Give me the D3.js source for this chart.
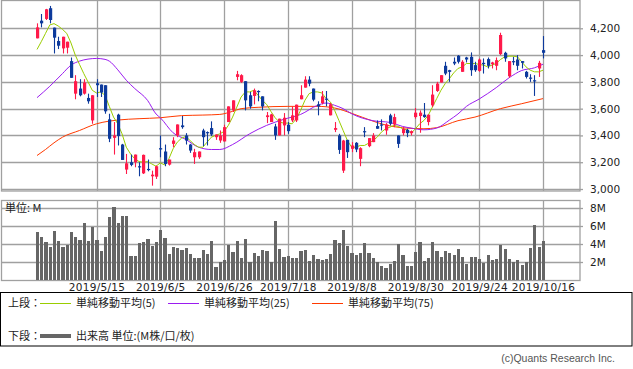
<!DOCTYPE html>
<html>
<head>
<meta charset="utf-8">
<script src="https://cdn.jsdelivr.net/npm/d3@7"></script>
<style>
body{margin:0;background:#fff;}
.chart{width:633px;height:369px;}
text{font-family:"DejaVu Sans",sans-serif;}
.jp{font-family:"Noto Sans CJK JP",sans-serif;}
</style>
</head>
<body>
<div class="chart"></div>
<script>
// daily prices, 120 trading days (2019/4/17 .. 2019/10/16)
const opens = [4125,4257,4270,4350,4205,4105,4050,4055,3955,3712,3750,3712,3680,3512,3790,3780,3775,3520,3382,3555,
  3332,3145,3200,3200,3170,3117,3150,3095,3092,3305,3280,3182,3337,3400,3475,3400,3332,3237,3237,3437,
  3425,3455,3387,3362,3355,3500,3587,3837,3800,3805,3700,3695,3732,3692,3537,3500,3467,3400,3475,3480,
  3512,3512,3670,3757,3817,3750,3632,3642,3675,3550,3442,3400,3137,3367,3300,3345,3225,3432,3320,3350,
  3470,3482,3437,3550,3482,3400,3417,3442,3417,3537,3545,3555,3500,3625,3732,3795,3920,3887,3950,3995,
  3875,3982,3987,3925,3882,3942,3970,3932,3920,4007,4017,3842,3955,3967,3955,3875,3832,3812,3900,4037];
const highs = [4237,4307,4345,4367,4205,4137,4137,4100,3982,3850,3820,3820,3712,3700,3820,3780,3775,3562,3500,3562,
  3337,3262,3257,3257,3200,3257,3220,3137,3175,3400,3332,3220,3387,3482,3545,3417,3337,3300,3280,3450,
  3430,3505,3407,3437,3480,3617,3662,3882,3857,3805,3725,3750,3737,3692,3575,3562,3487,3525,3567,3500,
  3617,3630,3775,3842,3842,3750,3655,3732,3732,3642,3500,3412,3367,3367,3350,3350,3312,3462,3380,3417,
  3512,3520,3492,3562,3562,3400,3462,3450,3437,3605,3587,3642,3555,3775,3800,3850,3950,3890,3982,4000,
  3962,3987,4020,3950,3975,3975,3982,3950,3982,4167,4025,3955,3987,4000,3955,3882,3857,3850,3957,4142];
const lows = [4125,4207,4262,4237,4012,4045,4012,4012,3830,3670,3692,3705,3637,3487,3687,3687,3562,3350,3257,3325,
  3217,3112,3170,3162,3095,3112,3132,3025,3075,3237,3170,3175,3312,3387,3450,3332,3270,3187,3225,3320,
  3325,3395,3367,3345,3355,3500,3575,3812,3792,3587,3600,3632,3655,3587,3492,3500,3367,3400,3400,3412,
  3500,3500,3670,3757,3767,3655,3550,3632,3617,3550,3425,3262,3120,3232,3275,3275,3170,3387,3312,3350,
  3450,3437,3405,3475,3462,3307,3400,3387,3400,3525,3420,3532,3475,3612,3725,3795,3850,3800,3925,3937,
  3875,3945,3845,3875,3875,3862,3900,3900,3887,4000,3950,3832,3925,3887,3900,3825,3800,3695,3837,3975];
const closes = [4207,4237,4342,4262,4130,4070,4137,4100,3830,3805,3700,3795,3655,3700,3775,3720,3580,3375,3400,3395,
  3217,3192,3180,3257,3162,3255,3142,3107,3170,3295,3187,3220,3362,3482,3462,3362,3287,3275,3280,3387,
  3417,3407,3407,3400,3462,3617,3662,3857,3850,3662,3617,3737,3725,3617,3550,3557,3400,3525,3532,3432,
  3550,3630,3700,3817,3787,3667,3617,3692,3667,3632,3455,3292,3362,3275,3325,3295,3305,3425,3380,3400,
  3450,3475,3482,3487,3537,3337,3450,3417,3432,3570,3570,3537,3555,3705,3787,3850,3862,3875,3937,3950,
  3950,3967,3887,3887,3967,3932,3920,3945,3962,4150,3975,3955,3947,3920,3942,3837,3825,3805,3942,4017];
// volume, millions of shares
const volumes = [5.37,4.8,4.24,3.7,5.45,4.35,3.7,3.9,5.35,4.8,4.42,6.35,4.35,5.9,4.42,3.25,4.8,7.0,8.1,6.35,
  7.1,7.1,2.67,2.67,4.07,4.19,4.56,3.78,4.19,5.56,4.7,2.87,3.67,3.54,3.35,3.54,2.9,2.4,2.5,3.37,
  2.87,4.35,1.46,1.98,2.22,3.89,3.15,4.35,2.48,4.57,2.0,2.96,2.67,3.37,3.22,2.0,6.58,3.48,2.55,2.67,
  2.45,2.45,3.18,3.33,2.1,2.78,2.37,2.22,2.3,2.85,4.44,4.07,5.56,3.78,2.96,2.78,2.96,4.07,2.96,2.4,
  2.04,1.58,1.33,1.76,2.1,4.0,2.8,1.55,1.55,3.1,4.19,2.1,2.5,4.19,3.22,2.6,3.22,2.96,2.78,3.42,
  2.55,1.8,2.6,2.6,2.37,1.9,2.78,2.22,2.32,3.89,3.42,2.3,2.04,2.2,1.67,2.04,3.55,6.1,3.7,4.35];
// moving averages
const ma5 = [4042,4100,4162,4225,4235,4217,4192,4162,4090,4000,3930,3862,3800,3737,3717,3725,3700,3617,3537,3487,
  3412,3312,3262,3225,3205,3200,3205,3187,3170,3195,3180,3225,3300,3350,3380,3392,3362,3332,3312,3312,
  3350,3387,3400,3412,3430,3475,3537,3612,3687,3725,3725,3737,3700,3662,3632,3580,3532,3500,3492,3492,
  3487,3525,3587,3662,3712,3725,3725,3717,3675,3650,3587,3512,3437,3362,3312,3312,3325,3325,3342,3362,
  3387,3425,3450,3462,3475,3467,3450,3442,3417,3450,3487,3512,3550,3612,3675,3737,3787,3825,3867,3900,
  3912,3937,3937,3937,3930,3925,3912,3925,3937,3967,3987,3992,3992,3987,3950,3912,3887,3875,3875,3887];
const ma25 = [[0,3682],[3,3767],[6,3862],[8,3925],[10,3955],[12,3970],[14,3975],[16,3968],[17,3955],[19,3890],
  [21,3812],[23,3750],[26,3662],[28,3560],[29,3532],[32,3420],[35,3370],[38,3312],[41,3295],[43,3295],
  [46,3332],[50,3412],[54,3475],[58,3520],[62,3557],[66,3625],[68,3642],[70,3625],[72,3600],[74,3562],
  [79,3510],[83,3497],[86,3467],[88,3455],[91,3442],[94,3455],[97,3515],[99,3560],[101,3617],[104,3672],
  [108,3757],[111,3830],[114,3885],[117,3905],[119,3932]];
const ma75 = [[0,3250],[2,3295],[4,3345],[6,3387],[10,3437],[14,3487],[17,3507],[19,3515],[24,3525],[29,3532],
  [34,3548],[39,3552],[43,3557],[46,3580],[48,3600],[52,3610],[59,3617],[66,3617],[70,3605],[74,3565],
  [79,3507],[82,3478],[86,3457],[91,3450],[94,3458],[99,3510],[103,3537],[109,3600],[114,3637],[119,3675]];

const dateIdx = [14,29,44,59,74,89,104,119];
const dateLabels = ['2019/5/15','2019/6/5','2019/6/26','2019/7/18','2019/8/8','2019/8/30','2019/9/24','2019/10/16'];
const priceTicks = [3000,3200,3400,3600,3800,4000,4200];
const volTicks = [2,4,6,8];

const width = 633, height = 369;
const upColor = '#ff1a4a', downColor = '#0d3a9c';
const gridColor = '#a0a0a0';

let svg = d3.select('.chart').append('svg')
  .attr('width', width)
  .attr('height', height);

const x = d3.scaleLinear().domain([0, 119]).range([37, 543]);
const y = d3.scaleLinear().domain([3000, 4200]).range([189, 28.3]);
const yv = d3.scaleLinear().domain([0, 8]).range([280, 208]);

// ---- price panel grid
svg.selectAll('.hgrid').data(priceTicks).enter().append('line')
  .attr('x1', 1).attr('x2', 580)
  .attr('y1', d => Math.round(y(d)) + 0.5).attr('y2', d => Math.round(y(d)) + 0.5)
  .style('stroke', gridColor).style('stroke-width', 1.3);
svg.selectAll('.vgrid').data(dateIdx).enter().append('line')
  .attr('x1', d => Math.round(x(d)) + 0.5).attr('x2', d => Math.round(x(d)) + 0.5)
  .attr('y1', 0).attr('y2', 191)
  .style('stroke', gridColor).style('stroke-width', 1.3);
svg.append('rect')
  .attr('x', 1.5).attr('y', 0.5).attr('width', 578.5).attr('height', 190.5)
  .attr('fill', 'none').style('stroke', gridColor).style('stroke-width', 1.3);

// ---- volume panel grid
svg.selectAll('.vhgrid').data(volTicks).enter().append('line')
  .attr('x1', 1).attr('x2', 580)
  .attr('y1', d => Math.round(yv(d)) + 0.5).attr('y2', d => Math.round(yv(d)) + 0.5)
  .style('stroke', gridColor).style('stroke-width', 1.3);
svg.selectAll('.vvgrid').data(dateIdx).enter().append('line')
  .attr('x1', d => Math.round(x(d)) + 0.5).attr('x2', d => Math.round(x(d)) + 0.5)
  .attr('y1', 201).attr('y2', 280)
  .style('stroke', gridColor).style('stroke-width', 1.3);
svg.append('rect')
  .attr('x', 1.5).attr('y', 200.5).attr('width', 578.5).attr('height', 80)
  .attr('fill', 'none').style('stroke', gridColor).style('stroke-width', 1.3);

// ---- axes
const pAxis = svg.append('g').attr('transform', 'translate(580,0)')
  .call(d3.axisRight(y).tickValues(priceTicks).tickFormat(d3.format(',')).tickSize(3).tickPadding(7));
const vAxis = svg.append('g').attr('transform', 'translate(580,0)')
  .call(d3.axisRight(yv).tickValues(volTicks).tickFormat(d => d + 'M').tickSize(3).tickPadding(7));
const xAxis = svg.append('g').attr('transform', 'translate(0,280)')
  .call(d3.axisBottom(x).tickValues(dateIdx).tickFormat((d, i) => dateLabels[i]).tickSize(0).tickPadding(4));
[pAxis, vAxis, xAxis].forEach(g => {
  g.select('.domain').remove();
  g.selectAll('line').style('stroke', gridColor).style('stroke-width', 1.3);
  g.selectAll('text').style('font-family', '"DejaVu Sans",sans-serif').style('font-size', '10.5px').attr('fill', '#222');
});
xAxis.selectAll('text').style('letter-spacing', '0.3px');

// ---- volume bars
svg.selectAll('.vol').data(volumes).enter().append('rect')
  .attr('x', (d, i) => x(i) - 1.2)
  .attr('y', d => yv(d))
  .attr('width', 3.2)
  .attr('height', d => yv(0) - yv(d))
  .attr('fill', '#666')
  .style('shape-rendering', 'crispEdges');

svg.append('text').attr('class', 'jp')
  .attr('x', 5).attr('y', 212)
  .style('font-size', '11px').attr('fill', '#222')
  .text('単位: M');

// ---- moving averages
const lineFull = d3.line().x((d, i) => x(i)).y(d => y(d));
const lineSparse = d3.line().x(d => x(d[0])).y(d => y(d[1])).curve(d3.curveMonotoneX);
svg.append('path').attr('d', lineSparse(ma75)).attr('fill', 'none').style('stroke', '#ff3a00').style('stroke-width', 1);
svg.append('path').attr('d', lineSparse(ma25)).attr('fill', 'none').style('stroke', '#9b1cf0').style('stroke-width', 1);
svg.append('path').attr('d', lineFull(ma5)).attr('fill', 'none').style('stroke', '#9acd00').style('stroke-width', 1);

// ---- candles
const idx = d3.range(opens.length);
svg.selectAll('.wick').data(idx).enter().append('line')
  .attr('x1', i => Math.round(x(i)) + 0.5).attr('x2', i => Math.round(x(i)) + 0.5)
  .attr('y1', i => y(highs[i])).attr('y2', i => y(lows[i]))
  .style('stroke', i => closes[i] >= opens[i] ? upColor : downColor)
  .style('stroke-width', 1.1);
svg.selectAll('.body').data(idx).enter().append('rect')
  .attr('x', i => Math.round(x(i)) - 1)
  .attr('y', i => y(Math.max(opens[i], closes[i])))
  .attr('width', 3.2)
  .attr('height', i => Math.max(1.2, Math.abs(y(opens[i]) - y(closes[i]))))
  .attr('fill', i => closes[i] >= opens[i] ? upColor : downColor);

// ---- legend
svg.append('rect')
  .attr('x', 0.5).attr('y', 292.5).attr('width', 631.5).attr('height', 53.5)
  .attr('fill', 'none').style('stroke', '#000').style('stroke-width', 1);
const legendRows = [
  {label: '上段：', y: 303},
  {label: '下段：', y: 336}
];
svg.selectAll('.lrow').data(legendRows).enter().append('text').attr('class', 'jp')
  .attr('x', 8).attr('y', d => d.y + 4)
  .style('font-size', '11px').attr('fill', '#222')
  .text(d => d.label);
const maKeys = [
  {x: 40, text: '単純移動平均(5)', color: '#9acd00'},
  {x: 168, text: '単純移動平均(25)', color: '#9b1cf0'},
  {x: 312, text: '単純移動平均(75)', color: '#ff3a00'}
];
maKeys.forEach(k => {
  svg.append('line').attr('x1', k.x).attr('x2', k.x + 31).attr('y1', 303.5).attr('y2', 303.5)
    .style('stroke', k.color).style('stroke-width', 1);
  svg.append('text').attr('class', 'jp').attr('x', k.x + 36).attr('y', 307)
    .style('font-size', '11px').attr('fill', '#222').text(k.text);
});
svg.append('line').attr('x1', 40).attr('x2', 71).attr('y1', 336).attr('y2', 336)
  .style('stroke', '#666').style('stroke-width', 4);
svg.append('text').attr('class', 'jp').attr('x', 76).attr('y', 340)
  .style('font-size', '11px').attr('fill', '#222').text('出来高 単位:(M株/口/枚)');

svg.append('text')
  .attr('x', 615).attr('y', 362).attr('text-anchor', 'end')
  .style('font-family', '"Liberation Sans",sans-serif').style('font-size', '10.5px')
  .attr('fill', '#555')
  .text('(c)Quants Research Inc.');
</script>
</body>
</html>
